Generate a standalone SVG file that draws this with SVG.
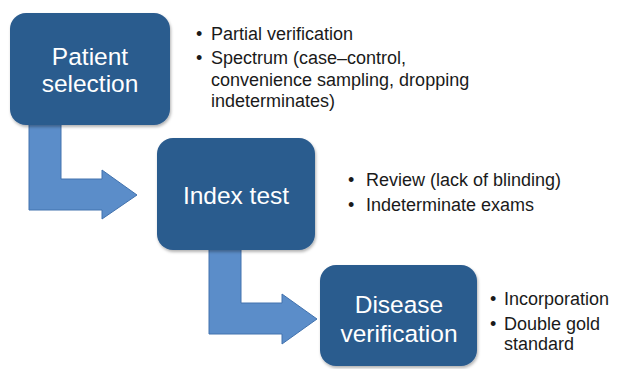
<svg xmlns="http://www.w3.org/2000/svg" width="619" height="369" viewBox="0 0 619 369">
<defs>
<filter id="sh" x="-10%" y="-10%" width="125%" height="125%">
<feDropShadow dx="1" dy="2" stdDeviation="1.5" flood-color="#000" flood-opacity="0.3"/>
</filter>
<style>
.box{fill:#2B5B8E;filter:url(#sh)}
.arrow{fill:#5B8DC9;stroke:#4272AE;stroke-width:1}
.lbl{font-family:"Liberation Sans",Arial,sans-serif;font-size:24.5px;fill:#fff;text-anchor:middle}
.bul{font-family:"Liberation Sans",Arial,sans-serif;font-size:18px;fill:#1a1a1a}
</style>
</defs>
<rect width="619" height="369" fill="#fff"/>
<g id="connectors">
<path class="arrow" d="M29,118 L61,118 L61,179 L102,179 L102,170 L137,195 L102,219 L102,210 L29,210 Z"/>
<path class="arrow" d="M209,244 L241,244 L241,303 L282,303 L282,294 L317,319 L282,344 L282,334 L209,334 Z"/>
</g>
<g id="patient-selection">
<rect class="box" x="10" y="13" width="160" height="112" rx="16"/>
<text class="lbl" x="90" y="65">Patient</text>
<text class="lbl" x="90" y="92">selection</text>
</g>
<g id="index-test">
<rect class="box" x="157" y="138" width="158" height="112" rx="16"/>
<text class="lbl" x="236" y="204">Index test</text>
</g>
<g id="disease-verification">
<rect class="box" x="320" y="265" width="157" height="101" rx="16"/>
<text class="lbl" x="399" y="313">Disease</text>
<text class="lbl" x="399" y="342">verification</text>
</g>
<g id="notes-patient">
<text class="bul" x="196" y="40">•</text>
<text class="bul" x="211" y="40">Partial verification</text>
<text class="bul" x="196" y="64">•</text>
<text class="bul" x="211" y="64">Spectrum (case–control,</text>
<text class="bul" x="211" y="86">convenience sampling, dropping</text>
<text class="bul" x="211" y="107">indeterminates)</text>
</g>
<g id="notes-index">
<text class="bul" x="348" y="186">•</text>
<text class="bul" x="366" y="186">Review (lack of blinding)</text>
<text class="bul" x="348" y="211">•</text>
<text class="bul" x="366" y="211">Indeterminate exams</text>
</g>
<g id="notes-disease">
<text class="bul" x="490" y="305">•</text>
<text class="bul" x="504" y="305">Incorporation</text>
<text class="bul" x="490" y="330">•</text>
<text class="bul" x="504" y="330">Double gold</text>
<text class="bul" x="504" y="350">standard</text>
</g>
</svg>
